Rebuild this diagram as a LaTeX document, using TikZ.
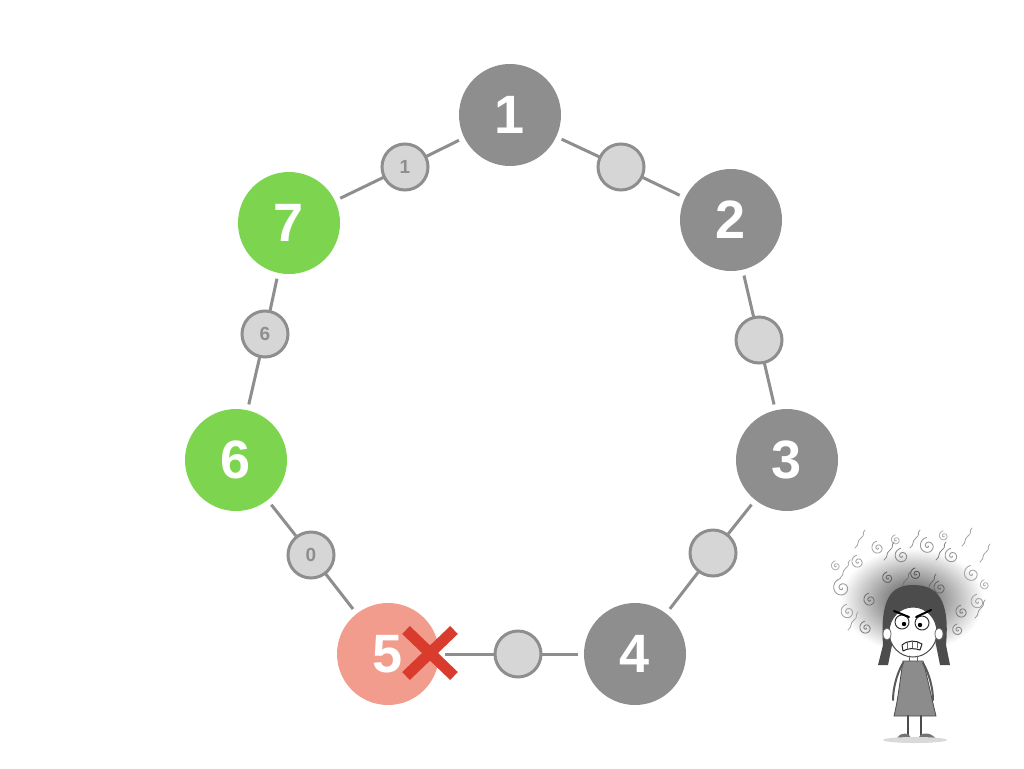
\documentclass[tikz,border=0pt]{standalone}
\usepackage{fontspec}
\setmainfont{Liberation Sans}
\usetikzlibrary{calc}
\definecolor{biggrey}{HTML}{8E8E8E}
\definecolor{smallfill}{HTML}{D6D6D6}
\definecolor{greennode}{HTML}{7DD54F}
\definecolor{pinknode}{HTML}{F29C8E}
\definecolor{xred}{HTML}{D93C2C}
\begin{document}
\begin{tikzpicture}[x=1pt,y=-1pt,
  big/.style={circle,minimum size=102pt,inner sep=0pt,outer sep=6pt,text=white,font=\fontsize{54}{54}\selectfont\bfseries},
  greybig/.style={big,fill=biggrey},
  greenbig/.style={big,fill=greennode},
  pinkbig/.style={big,fill=pinknode},
  small/.style={circle,minimum size=46pt,inner sep=0pt,outer sep=0pt,fill=smallfill,draw=biggrey,line width=3pt,text=biggrey,font=\fontsize{19}{19}\selectfont\bfseries},
  link/.style={draw=biggrey,line width=3pt},
  sketch/.style={line cap=round,line join=round}]
\useasboundingbox (0,0) rectangle (1024,768);
% big nodes
\node[greybig] (n1) at (510,115) {1};
\node[greybig] (n2) at (731,220) {2};
\node[greybig] (n3) at (787,460) {3};
\node[greybig] (n4) at (635,654) {4};
\node[pinkbig] (n5) at (388,654) {5};
\node[greenbig] (n6) at (236,460) {6};
\node[greenbig] (n7) at (289,223) {7};
% small nodes
\node[small] (s71) at (405,167) {1};
\node[small] (s12) at (621,167) {};
\node[small] (s23) at (759,340) {};
\node[small] (s34) at (713,553) {};
\node[small] (s45) at (518,654) {};
\node[small] (s56) at (311,555) {0};
\node[small] (s67) at (265,334) {6};
% links
\draw[link] (n7) -- (s71); \draw[link] (s71) -- (n1);
\draw[link] (n1) -- (s12); \draw[link] (s12) -- (n2);
\draw[link] (n2) -- (s23); \draw[link] (s23) -- (n3);
\draw[link] (n3) -- (s34); \draw[link] (s34) -- (n4);
\draw[link] (n4) -- (s45); \draw[link] (s45) -- (n5);
\draw[link] (n5) -- (s56); \draw[link] (s56) -- (n6);
\draw[link] (n6) -- (s67); \draw[link] (s67) -- (n7);
% red cross
\coordinate (xc) at (430,653);
\draw[xred,line width=11pt] ($(xc)+(-24,-23)$) -- ($(xc)+(24,23)$);
\draw[xred,line width=11pt] ($(xc)+(24,-23)$) -- ($(xc)+(-24,23)$);
% girl sketch
\begin{scope}[sketch]
  % fuzzy hair cloud
  \shade[inner color=black!70,outer color=white] (912,600) ellipse (72 and 52);
  % hair cloud swirls
  \foreach \px/\py/\s/\c in {842/588/1.1/40,848/612/0.9/35,858/562/0.8/35,878/548/0.8/35,902/556/0.9/45,928/546/1.0/40,952/556/0.9/40,972/574/1.0/35,978/602/0.9/35,962/612/0.8/50,870/600/0.8/55,940/588/0.8/60,888/578/0.7/60,916/574/0.7/65,958/630/0.7/45,866/628/0.8/50,836/566/0.6/30,985/585/0.6/30,896/540/0.6/30,944/536/0.6/30}{
    \draw[black!\c,line width=0.9pt] plot[domain=0:620,samples=40] ({\px+\s*0.014*\x*cos(\x)},{\py+\s*0.014*\x*sin(\x)});
  }
  \foreach \px/\py/\c in {840/578/35,855/548/35,884/560/45,910/548/40,936/560/50,962/546/35,980/562/35,975/618/40,848/630/35,900/590/55,926/592/60}{
    \draw[black!\c,line width=0.8pt] (\px,\py) .. controls +(5,-4) and +(-5,4) .. +(6,-10) .. controls +(5,-4) and +(-4,4) .. +(10,-18);
  }
  % dark hair
  \fill[black!70] (883,645) .. controls (880,600) and (890,585) .. (913,585) .. controls (938,585) and (950,600) .. (946,645) -- (950,665) -- (940,665) -- (935,640) -- (893,640) -- (888,665) -- (878,665) -- cycle;
  % face
  \fill[white] (913,632) ellipse (24 and 25);
  \draw[black!70,line width=1pt] (913,632) ellipse (24 and 25);
  \fill[white,draw=black!60,line width=0.8pt] (887,634) ellipse (4 and 6);
  \fill[white,draw=black!60,line width=0.8pt] (939,634) ellipse (4 and 6);
  % eyes
  \draw[black!80,line width=1pt,fill=white] (902,622) circle (7);
  \draw[black!80,line width=1pt,fill=white] (922,623) circle (7);
  \fill[black] (904,624) circle (2.2);
  \fill[black] (920,625) circle (2.2);
  % brows
  \draw[black,line width=2pt] (894,611) -- (909,617);
  \draw[black,line width=2pt] (916,617) -- (931,610);
  % mouth
  \draw[black!85,line width=1pt,fill=white] (902,645) .. controls (908,640) and (916,640) .. (922,644) -- (920,650) .. controls (914,648) and (908,648) .. (903,651) -- cycle;
  \draw[black!60,line width=0.5pt] (907,642) -- (907,649) (912,641) -- (912,648) (917,642) -- (917,648);
  % neck
  \draw[black!60,line width=1pt] (909,656) -- (909,662) (917,656) -- (917,662);
  % dress
  \fill[black!45] (903,661) -- (923,661) .. controls (928,680) and (932,700) .. (936,716) -- (894,716) .. controls (898,700) and (900,680) .. cycle;
  \draw[black!70,line width=0.8pt] (903,661) -- (923,661) .. controls (928,680) and (932,700) .. (936,716) -- (894,716) .. controls (898,700) and (900,680) .. cycle;
  % arms
  \draw[black!65,line width=2pt] (903,663) .. controls (896,675) and (893,690) .. (893,700);
  \draw[black!65,line width=2pt] (923,663) .. controls (930,675) and (933,690) .. (933,700);
  % legs
  \draw[black!70,line width=2.5pt] (908,716) -- (908,735);
  \draw[black!70,line width=2.5pt] (921,716) -- (921,735);
  % shoes
  \fill[black!55] (897,738) .. controls (900,732) and (910,732) .. (911,738) -- cycle;
  \fill[black!55] (918,738) .. controls (920,732) and (931,732) .. (935,738) -- cycle;
  % shadow
  \fill[black!15] (915,740) ellipse (32 and 3);
\end{scope}
\end{tikzpicture}
\end{document}
